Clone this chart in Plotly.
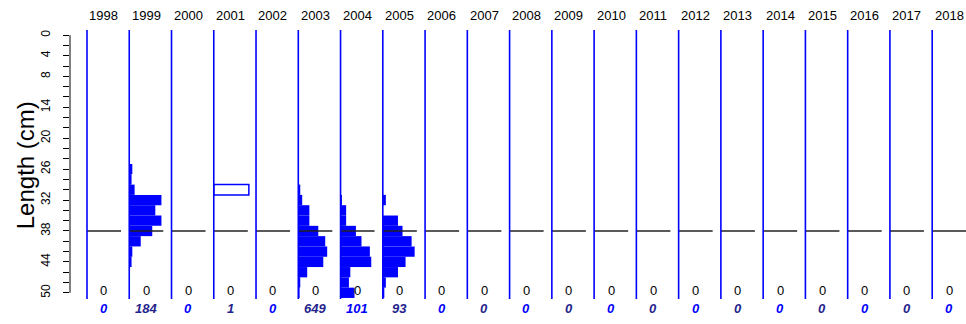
import plotly.graph_objects as go

years = list(range(1998, 2019))
black_counts = [0] * 21
totals = [0, 184, 0, 1, 0, 649, 101, 93, 0, 0, 0, 0, 0, 0, 0, 0, 0, 0, 0, 0, 0]

# length bins (lower edge, cm), 2-cm wide
bins_1999 = [25, 27, 29, 31, 33, 35, 37, 39, 41, 43]
freq_1999 = [4, 3, 7, 42, 34, 42, 30, 15, 4, 3]
bins_2003 = [29, 31, 33, 35, 37, 39, 41, 43, 45, 47, 49]
freq_2003 = [9, 18, 51, 51, 92, 124, 133, 115, 41, 9, 6]
bins_2004 = [31, 33, 35, 37, 39, 41, 43, 45, 47, 49]
freq_2004 = [1, 4, 4, 11, 15, 21, 22, 7, 6, 10]
bins_2005 = [31, 33, 35, 37, 39, 41, 43, 45, 47, 49]
freq_2005 = [2, 0, 10, 13, 19, 21, 15, 10, 2, 1]
# 2001: single fish drawn as open box
bins_2001 = [29]
ref_length = 38
y_ticks = list(range(0, 51, 2))
y_labels = [0, 4, 8, 14, 20, 26, 32, 38, 44, 50]

BLUE = "#0000FF"
SCALE = 3.337          # panel units for 100 %
BOX_W = 0.83

fig = go.Figure()
hist = {1999: (bins_1999, freq_1999), 2003: (bins_2003, freq_2003),
        2004: (bins_2004, freq_2004), 2005: (bins_2005, freq_2005)}
for yr, (b, f) in hist.items():
    i = years.index(yr)
    tot = sum(f)
    fig.add_trace(go.Bar(orientation="h", y=[v + 1 for v in b],
                         x=[c / tot * SCALE for c in f], base=[i] * len(b),
                         width=[2] * len(b), marker=dict(color=BLUE, line=dict(width=0)),
                         showlegend=False, hoverinfo="skip"))
i01 = years.index(2001)
for b in bins_2001:
    fig.add_shape(type="rect", x0=i01, x1=i01 + BOX_W, y0=b, y1=b + 2,
                  line=dict(color=BLUE, width=1.5), fillcolor="rgba(0,0,0,0)")

# reference length line
xs, ys = [], []
for i in range(len(years)):
    xs += [i, i + 0.805, None]
    ys += [ref_length, ref_length, None]
fig.add_trace(go.Scatter(x=xs, y=ys, mode="lines", line=dict(color="#222222", width=1.3),
                         showlegend=False, hoverinfo="skip"))

# panel baselines
for i in range(len(years)):
    fig.add_shape(type="line", x0=i, x1=i, y0=-1, y1=51.2,
                  line=dict(color=BLUE, width=1.6), layer="above")

# y axis line 0..50
fig.add_shape(type="line", xref="paper", x0=0, x1=0, yref="y", y0=0, y1=50,
              line=dict(color="black", width=1))

W, H = 966, 324
TOP, LEFT = 30, 70
H_PLOT = 269.2
def py(page_y):
    # paper coordinate for a pixel row
    return (TOP + H_PLOT - page_y) / H_PLOT

ann = []
for i, yr in enumerate(years):
    ann.append(dict(x=i + 0.4, xref="x", y=py(15), yref="paper", text=str(yr),
                    xanchor="center", yanchor="middle",
                    showarrow=False, font=dict(size=13, color="black")))
    ann.append(dict(x=i + 0.4, xref="x", y=49.6, yref="y", text=str(black_counts[i]),
                    xanchor="center", yanchor="middle",
                    showarrow=False, font=dict(size=13, color="black")))
    col = BLUE if i % 2 == 0 else "#24248C"
    ann.append(dict(x=i + 0.4, xref="x", y=py(309), yref="paper",
                    xanchor="center", yanchor="middle",
                    text="<b><i>%d</i></b>" % totals[i], showarrow=False,
                    font=dict(size=13, color=col)))
ann.append(dict(x=-0.050, xref="paper", y=0.498, yref="paper", text="Length (cm)",
                xanchor="center", yanchor="middle",
                textangle=-90, showarrow=False, font=dict(size=24, color="black")))

fig.update_layout(
    width=W, height=H,
    margin=dict(l=LEFT, r=0, t=TOP, b=H - TOP - H_PLOT, autoexpand=False),
    plot_bgcolor="white", paper_bgcolor="white",
    font=dict(family="Liberation Sans, Arial, sans-serif"),
    barmode="overlay",
    xaxis=dict(range=[-0.402, 20.80], visible=False, showgrid=False, zeroline=False),
    yaxis=dict(range=[51.2, -1], tickvals=y_ticks,
               ticktext=[str(v) if v in y_labels else "" for v in y_ticks],
               ticks="outside", ticklen=6, tickcolor="black", tickangle=-90,
               ticklabelstandoff=8,
               tickfont=dict(size=12, color="black"), automargin=False,
               showline=False, showgrid=False, zeroline=False),
    annotations=ann,
)
fig.write_html("out.html", default_width="966px", default_height="324px",
               config={"displayModeBar": False, "staticPlot": True},
               post_script="document.body.style.margin='0';document.body.style.overflow='hidden';")
